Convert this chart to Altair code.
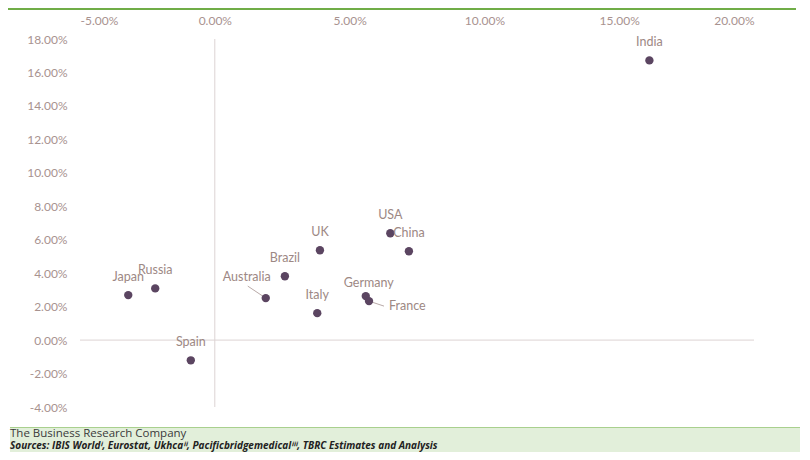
import altair as alt
import pandas as pd

countries = ["Japan", "Russia", "Spain", "Australia", "Brazil", "UK", "Italy",
             "Germany", "France", "USA", "China", "India"]
x_vals = [-3.21, -2.21, -0.89, 1.89, 2.60, 3.90, 3.80, 5.60, 5.72, 6.51, 7.20, 16.12]
y_vals = [2.69, 3.09, -1.21, 2.51, 3.82, 5.37, 1.61, 2.63, 2.33, 6.39, 5.31, 16.72]
x_ticks = [-5, 0, 5, 10, 15, 20]
y_ticks = [-4, -2, 0, 2, 4, 6, 8, 10, 12, 14, 16, 18]
company = "The Business Research Company"
sources = "Sources: IBIS Worldⁱ, Eurostat, Ukhcaⁱⁱ, Pacificbridgemedicalⁱⁱⁱ, TBRC Estimates and Analysis"

df = pd.DataFrame({"country": countries, "x": x_vals, "y": y_vals})

PLOT_W, PLOT_H = 674, 368
PAD_L, PAD_T = 72, 31
TOTAL_W, TOTAL_H = 794, 444

POINT = "#5b4561"
LABEL = "#9d8884"
TICK = "#a8928f"
ZERO = "#dcd3d3"
FONT = "Lato"

lbl_expr = "replace(format(datum.value, '.2f'), '\u2212', '-') + '%'"

x_axis = alt.Axis(orient="top", values=x_ticks, tickCount=len(x_ticks), labelExpr=lbl_expr,
                  grid=False, domain=False, ticks=False, labelPadding=12, title=None,
                  labelOverlap=False, labelColor=TICK, labelFontSize=12, labelFont=FONT)
y_axis = alt.Axis(values=y_ticks, tickCount=len(y_ticks), labelExpr=lbl_expr, grid=False,
                  domain=False, ticks=False, labelPadding=13, title=None,
                  labelOverlap=False, labelColor=TICK, labelFontSize=12, labelFont=FONT)
x_scale = alt.Scale(domain=[-5, 20], nice=False, zero=False)
y_scale = alt.Scale(domain=[-4, 18], nice=False, zero=False)

xs = alt.X("x:Q", scale=x_scale, axis=x_axis)
ys = alt.Y("y:Q", scale=y_scale, axis=y_axis)

base = alt.Chart(df)
one = alt.Data(values=[{}])

vline = alt.Chart(one).mark_rule(color=ZERO, strokeWidth=1).encode(
    x=alt.X(datum=0, type="quantitative", scale=x_scale, axis=x_axis))
hline = alt.Chart(one).mark_rule(color=ZERO, strokeWidth=1).encode(
    y=alt.Y(datum=0, type="quantitative", scale=y_scale, axis=y_axis))

points = base.mark_circle(size=70, color=POINT, opacity=1).encode(x=xs, y=ys)

above = ["Japan", "Russia", "Spain", "Brazil", "UK", "Italy", "USA", "China", "India"]
lab_above = base.transform_filter(alt.FieldOneOfPredicate(field="country", oneOf=above)).mark_text(
    dy=-18, font=FONT, fontSize=12.5, color=LABEL).encode(x="x:Q", y="y:Q", text="country:N")
lab_aus = base.transform_filter(alt.datum.country == "Australia").mark_text(
    dx=-19, dy=-21, font=FONT, fontSize=12.5, color=LABEL).encode(x="x:Q", y="y:Q", text="country:N")
lab_ger = base.transform_filter(alt.datum.country == "Germany").mark_text(
    dx=3, dy=-13, font=FONT, fontSize=12.5, color=LABEL).encode(x="x:Q", y="y:Q", text="country:N")
lab_fra = base.transform_filter(alt.datum.country == "France").mark_text(
    dx=20, dy=5, align="left", font=FONT, fontSize=12.5, color=LABEL).encode(x="x:Q", y="y:Q", text="country:N")

lead_aus = base.transform_filter(alt.datum.country == "Australia").mark_rule(
    color="#b9aaa8", strokeWidth=1, xOffset=-3, yOffset=-2, x2Offset=-18, y2Offset=-12).encode(
    x="x:Q", y="y:Q", x2="x:Q", y2="y:Q")
lead_fra = base.transform_filter(alt.datum.country == "France").mark_rule(
    color="#b9aaa8", strokeWidth=1, xOffset=3, yOffset=1, x2Offset=15, y2Offset=5).encode(
    x="x:Q", y="y:Q", x2="x:Q", y2="y:Q")

left = -PAD_L
right = TOTAL_W - PAD_L
top_bar = alt.Chart(one).mark_rect(color="#70ad47").encode(
    x=alt.value(left), x2=alt.value(right - 6), y=alt.value(-PAD_T), y2=alt.value(-PAD_T + 2))
band = alt.Chart(one).mark_rect(color="#e2efda").encode(
    x=alt.value(left + 2), x2=alt.value(right - 2), y=alt.value(388), y2=alt.value(413))
band_top = alt.Chart(one).mark_rule(color="#a9d08e", strokeWidth=1).encode(
    x=alt.value(left + 2), x2=alt.value(right - 2), y=alt.value(388.5))
t1 = alt.Chart(one).mark_text(align="left", baseline="middle", font="Open Sans", fontSize=11.5,
                              color="#3a3a3a").encode(
    x=alt.value(left + 2), y=alt.value(394.5), text=alt.value(company))
t2 = alt.Chart(one).mark_text(align="left", baseline="middle", font="Open Sans", fontSize=10,
                              fontWeight="bold", fontStyle="italic", color="#222222").encode(
    x=alt.value(left + 2), y=alt.value(407), text=alt.value(sources))

chart = alt.layer(
    band, band_top, top_bar, vline, hline, lead_aus, lead_fra, points,
    lab_above, lab_aus, lab_ger, lab_fra, t1, t2
).properties(
    width=PLOT_W, height=PLOT_H,
    autosize=alt.AutoSizeParams(type="none"),
    padding={"left": PAD_L, "top": PAD_T, "right": TOTAL_W - PAD_L - PLOT_W,
             "bottom": TOTAL_H - PAD_T - PLOT_H},
    background="white",
).configure_view(stroke=None).configure_axis(labelOverlap=False)

chart.save("out.html", embed_options={"renderer": "svg", "actions": False})
